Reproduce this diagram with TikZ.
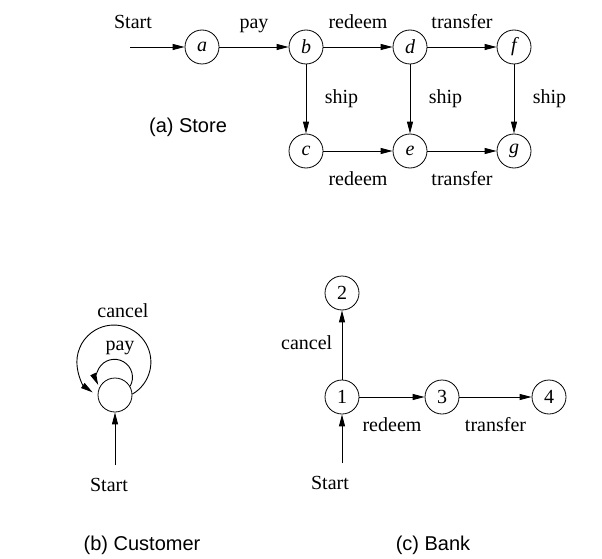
\documentclass[tikz,border=0pt]{standalone}
\usepackage{fontspec}
\setmainfont{Liberation Serif}
\setsansfont{Liberation Sans}
\usepackage{tikz}
\usetikzlibrary{arrows.meta}
\usetikzlibrary{positioning}

\newcommand{\lblfont}{\fontsize{20}{24}\selectfont}

\tikzset{
  stnode/.style={circle, draw, line width=0.8pt, minimum size=34pt, inner sep=0pt, font=\lblfont\itshape},
  numnode/.style={stnode, font=\lblfont},
  trans/.style={line width=0.9pt, -{Triangle[length=12pt,width=6pt]}},
  lbl/.style={font=\lblfont, text height=14pt, text depth=5pt},
  capt/.style={font=\lblfont\sffamily}
}

\begin{document}
\begin{tikzpicture}[x=1pt,y=1pt,node distance=104pt]
\useasboundingbox (0,0) rectangle (602,558);

%store: upper row
\node[stnode] (a) at (202,511) {a};
\node[stnode, right of=a] (b) {b};
\node[stnode, right of=b] (d) {d};
\node[stnode, right of=d] (f) {f};

%store: lower row
\node[stnode, below of=b] (c) {c};
\node[stnode, below of=d] (e) {e};
\node[stnode, below of=f] (g) {g};

\coordinate[left of=a, node distance=72pt] (s0);
\node[lbl, above=10pt of s0, xshift=3pt] (st0) {Start};

\draw[trans] (s0) -- (a);
\draw[trans] (a) -- node[lbl, above=10pt] {pay} (b);
\draw[trans] (b) -- node[lbl, above=10pt] {redeem} (d);
\draw[trans] (d) -- node[lbl, above=10pt] {transfer} (f);
\draw[trans] (b) -- node[lbl, right=15pt] {ship} (c);
\draw[trans] (d) -- node[lbl, right=15pt] {ship} (e);
\draw[trans] (f) -- node[lbl, right=15pt] {ship} (g);
\draw[trans] (c) -- node[lbl, below=17pt] {redeem} (e);
\draw[trans] (e) -- node[lbl, below=17pt] {transfer} (g);

\node[capt] (capa) at (188,431) {(a) Store};

%customer
\node[stnode] (cust) at (115,163) {};
\coordinate (s1) at (115,93);
\node[lbl, below=9pt of s1, xshift=-6pt] (st1) {Start};
\draw[trans] (s1) -- (cust);

%self loops
\draw[trans] (cust.30) arc[start angle=-30, end angle=205, radius=18];
\draw[trans] (cust.3) arc[start angle=-60, end angle=235, radius=37];
\node[lbl] (lpay) at (120,212) {pay};
\node[lbl] (lcancel) at (123,245) {cancel};

\node[capt] (capb) at (142,13) {(b) Customer};

%bank
\node[numnode] (n1) at (342,161) {1};
\node[numnode, above of=n1] (n2) {2};
\node[numnode, right of=n1, node distance=100pt] (n3) {3};
\node[numnode, right of=n3, node distance=107pt] (n4) {4};

\coordinate (s2) at (342,95);
\node[lbl, below=9pt of s2, xshift=-12pt] (st2) {Start};

\draw[trans] (s2) -- (n1);
\draw[trans] (n1) -- node[lbl, left=6pt] {cancel} (n2);
\draw[trans] (n1) -- node[lbl, below=17pt] {redeem} (n3);
\draw[trans] (n3) -- node[lbl, below=17pt] {transfer} (n4);

\node[capt] (capc) at (433,13) {(c) Bank};
\end{tikzpicture}
\end{document}
